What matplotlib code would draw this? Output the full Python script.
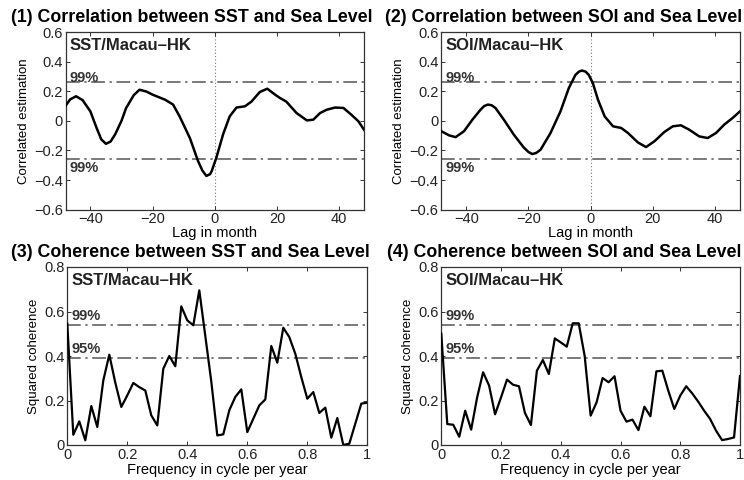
"""SST / SOI 与海平面的相关和相干 — 四联图"""

import numpy as np
import matplotlib
matplotlib.use('Agg')
import matplotlib.pyplot as plt
from matplotlib.ticker import FixedLocator, FixedFormatter

plt.rcParams['font.family'] = ['Liberation Sans', 'DejaVu Sans']

# ========== 数据 ==========
lag_sst = [-48.5, -46.5, -44.6, -42.5, -40, -38, -36.5, -35, -33.5, -32, -30,
           -28.5, -26, -24.2, -22, -20, -16, -13.4, -11.3, -8, -5.4, -4, -2.7,
           -1.5, -1, 0.5, 2.7, 4.8, 7, 9.7, 11.8, 14.5, 16.9, 19.4, 21,
           23, 26.3, 29.6, 31.7, 33.9, 36, 38.7, 41.4, 44, 46.2, 48]
corr_sst = [0.087, 0.145, 0.166, 0.14, 0.064, -0.048, -0.125, -0.155, -0.14, -0.09,
            0.0, 0.087, 0.175, 0.21, 0.198, 0.177, 0.143, 0.11, 0.03, -0.116,
            -0.27, -0.335, -0.372, -0.36, -0.34, -0.25, -0.09, 0.03, 0.09,
            0.098, 0.13, 0.195, 0.217, 0.177, 0.154, 0.13, 0.053, 0.003, 0.008,
            0.053, 0.075, 0.09, 0.087, 0.04, -0.003, -0.06]

lag_soi = [-48, -45.5, -43.4, -40.7, -38, -35.4, -34.2, -33, -31.8, -30.6, -27.9,
           -24.7, -21.5, -20, -18.8, -17.5, -16.1, -12.9, -9.7, -7, -4.9, -3.8,
           -2.8, -1.6, -0.6, 0.7, 2.35, 4.5, 7.2, 9.8, 12, 15.2, 17.8, 20.5,
           23.7, 26.4, 29, 31.7, 34.9, 37.6, 40.3, 42.9, 45.6, 48]
corr_soi = [-0.07, -0.098, -0.11, -0.07, 0.008, 0.075, 0.1, 0.11, 0.105, 0.087,
            0.008, -0.093, -0.18, -0.21, -0.224, -0.217, -0.195, -0.082, 0.064,
            0.222, 0.31, 0.332, 0.34, 0.332, 0.31, 0.255, 0.143, 0.03, -0.037,
            -0.048, -0.082, -0.146, -0.177, -0.138, -0.075, -0.037, -0.03, -0.06,
            -0.105, -0.116, -0.082, -0.026, 0.019, 0.064]

freq = [0.00, 0.02, 0.04, 0.06, 0.08, 0.10, 0.12, 0.14, 0.16, 0.18,
        0.20, 0.22, 0.24, 0.26, 0.28, 0.30, 0.32, 0.34, 0.36, 0.38,
        0.40, 0.42, 0.44, 0.46, 0.48, 0.50, 0.52, 0.54, 0.56, 0.58,
        0.60, 0.62, 0.64, 0.66, 0.68, 0.70, 0.72, 0.74, 0.76, 0.78,
        0.80, 0.82, 0.84, 0.86, 0.88, 0.90, 0.92, 0.94, 0.96, 0.98, 1.00]
coh_sst = [0.545, 0.046, 0.106, 0.021, 0.175, 0.081, 0.29, 0.406, 0.28, 0.171,
           0.223, 0.279, 0.26, 0.245, 0.133, 0.088, 0.343, 0.40, 0.354, 0.623,
           0.56, 0.538, 0.695, 0.49, 0.285, 0.043, 0.048, 0.156, 0.216, 0.25,
           0.058, 0.118, 0.178, 0.205, 0.445, 0.37, 0.527, 0.485, 0.41, 0.305,
           0.208, 0.238, 0.144, 0.168, 0.033, 0.121, 0.0, 0.006, 0.096, 0.186, 0.19]
coh_soi = [0.50, 0.094, 0.091, 0.037, 0.154, 0.069, 0.214, 0.327, 0.267, 0.138,
           0.214, 0.294, 0.271, 0.264, 0.144, 0.09, 0.334, 0.382, 0.319, 0.479,
           0.461, 0.442, 0.547, 0.547, 0.40, 0.132, 0.192, 0.301, 0.282, 0.309,
           0.154, 0.105, 0.114, 0.067, 0.172, 0.129, 0.331, 0.334, 0.244, 0.162,
           0.222, 0.264, 0.232, 0.195, 0.154, 0.117, 0.064, 0.022, 0.027, 0.034, 0.31]

corr_sig = 0.26                 # 相关 99% 置信线
coh_sig = [(0.54, '99%'), (0.39, '95%')]

titles = ['(1) Correlation between SST and Sea Level',
          '(2) Correlation between SOI and Sea Level',
          '(3) Coherence between SST and Sea Level',
          '(4) Coherence between SOI and Sea Level']
tags = ['SST/Macau\u2013HK', 'SOI/Macau\u2013HK', 'SST/Macau\u2013HK', 'SOI/Macau\u2013HK']

# ========== 样式 ==========
W, H = 744, 480
FS_TICK = 10.5
FS_TITLE = 12.8
FS_LAB = 10.5
FS_TAG = 12
FS_SIG = 10.5
SIG_CLR = '#555555'
SIG_DASH = (9, 3, 1.5, 3)
NARROW = ['Liberation Sans Narrow', 'Liberation Sans', 'DejaVu Sans']

# 像素框 (left, top, right, bottom)
boxes = [(65.5, 32, 364, 209.7), (441.3, 32, 740, 209.7),
         (67.3, 267, 367.3, 445), (441.3, 267, 740, 445)]


def fmt(v):
    if abs(v) < 1e-9:
        return '0'
    s = f'{abs(v):g}'
    return ('\u2212' + s) if v < 0 else s


fig = plt.figure(figsize=(W / 100, H / 100), dpi=100)
fig.patch.set_facecolor('white')

axes = []
for (l, t, r, b) in boxes:
    ax = fig.add_axes([l / W, 1 - b / H, (r - l) / W, (b - t) / H])
    axes.append(ax)

for k, ax in enumerate(axes):
    for sp in ax.spines.values():
        sp.set_color('#333333')
        sp.set_linewidth(0.9)
    ax.tick_params(direction='in', top=True, right=True, length=3,
                   width=0.7, colors='#333333', labelsize=FS_TICK,
                   labelcolor='#222222', pad=2)
    ax.text(0.41 if k else 0.424, 1.035, titles[k], transform=ax.transAxes,
            ha='center', va='bottom', fontsize=FS_TITLE, fontweight='bold')
    ax.text(0.015, 0.965, tags[k], transform=ax.transAxes, ha='left', va='top',
            fontsize=FS_TAG, fontweight='bold', color='#222222')

# ---------- 相关 ----------
for ax, lag, corr in [(axes[0], lag_sst, corr_sst), (axes[1], lag_soi, corr_soi)]:
    ax.axvline(0, color='#777777', lw=0.8, ls=(0, (1, 2)), zorder=1)
    for v in (corr_sig, -corr_sig):
        ax.axhline(v, color=SIG_CLR, lw=1.1, dashes=SIG_DASH, zorder=1)
    ax.plot(lag, corr, color='black', lw=1.8, zorder=3, solid_joinstyle='round')
    ax.set_xlim(-48, 48)
    ax.set_ylim(-0.6, 0.6)
    xt = [-40, -20, 0, 20, 40]
    yt = [-0.6, -0.4, -0.2, 0, 0.2, 0.4, 0.6]
    ax.xaxis.set_major_locator(FixedLocator(xt))
    ax.xaxis.set_major_formatter(FixedFormatter([fmt(v) for v in xt]))
    ax.yaxis.set_major_locator(FixedLocator(yt))
    ax.yaxis.set_major_formatter(FixedFormatter([fmt(v) for v in yt]))
    ax.set_xlabel('Lag in month', fontsize=FS_LAB, labelpad=0)
    ax.set_ylabel('Correlated estimation', fontsize=9.5, family=NARROW, labelpad=3)
    ax.text(0.015, 0.7, '99%', transform=ax.transAxes, ha='left', va='bottom',
            fontsize=FS_SIG, fontweight='bold', color='#333333')
    ax.text(0.015, 0.275, '99%', transform=ax.transAxes, ha='left', va='top',
            fontsize=FS_SIG, fontweight='bold', color='#333333')

# ---------- 相干 ----------
for ax, coh in [(axes[2], coh_sst), (axes[3], coh_soi)]:
    for v, lab in coh_sig:
        ax.axhline(v, color=SIG_CLR, lw=1.1, dashes=SIG_DASH, zorder=1)
        ax.text(0.015, v / 0.8 + 0.01, lab, transform=ax.transAxes, ha='left',
                va='bottom', fontsize=FS_SIG, fontweight='bold', color='#333333')
    ax.plot(freq, coh, color='black', lw=1.6, zorder=3)
    ax.set_xlim(0, 1)
    ax.set_ylim(0, 0.8)
    xt = [0, 0.2, 0.4, 0.6, 0.8, 1]
    yt = [0, 0.2, 0.4, 0.6, 0.8]
    ax.xaxis.set_major_locator(FixedLocator(xt))
    ax.xaxis.set_major_formatter(FixedFormatter([fmt(v) for v in xt]))
    ax.yaxis.set_major_locator(FixedLocator(yt))
    ax.yaxis.set_major_formatter(FixedFormatter([fmt(v) for v in yt]))
    ax.set_xlabel('Frequency in cycle per year', fontsize=FS_LAB, labelpad=1)
    ax.set_ylabel('Squared coherence', fontsize=9.5, family=NARROW, labelpad=3)

fig.savefig('out.png', dpi=100)
